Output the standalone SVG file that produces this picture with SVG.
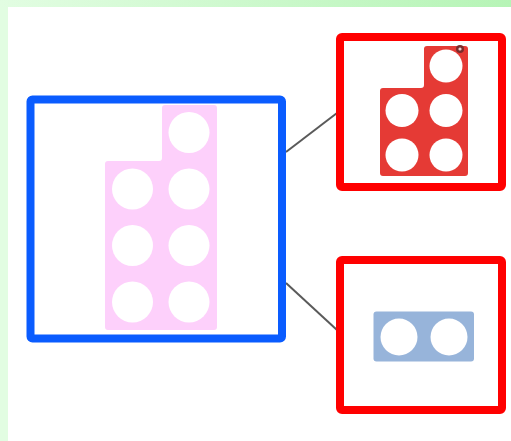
<svg xmlns="http://www.w3.org/2000/svg" width="511" height="441" viewBox="0 0 511 441">
  <defs>
    <linearGradient id="topBand" x1="0" y1="0" x2="1" y2="0">
      <stop offset="0" stop-color="#e2fde2"/>
      <stop offset="1" stop-color="#b6f4b6"/>
    </linearGradient>
    <style>
      .frame { fill: #ffffff; stroke-width: 8; stroke-linejoin: round; }
      .blue { stroke: #0a5cff; }
      .red { stroke: #ff0000; }
      .hole { fill: #ffffff; }
      .link { stroke: #5a5a5a; stroke-width: 2; fill: none; }
    </style>
  </defs>

  <!-- page background -->
  <rect x="0" y="0" width="511" height="441" fill="#ffffff"/>
  <rect x="0" y="0" width="8" height="441" fill="#e2fde2"/>
  <rect x="0" y="0" width="511" height="7" fill="url(#topBand)"/>

  <!-- connectors -->
  <g id="connectors">
    <line class="link" x1="286" y1="152" x2="337" y2="113"/>
    <line class="link" x1="286" y1="283" x2="337" y2="330"/>
  </g>

  <!-- seven: pink number rod -->
  <g id="seven">
    <rect class="frame blue" x="30.5" y="99.5" width="251.5" height="239" rx="2"/>
    <path d="M108 161 H159 A3 3 0 0 0 162 158 V108 A3 3 0 0 1 165 105 H214 A3 3 0 0 1 217 108 V327 A3 3 0 0 1 214 330 H108 A3 3 0 0 1 105 327 V164 A3 3 0 0 1 108 161 Z" fill="#fdd0fb"/>
    <circle class="hole" cx="189" cy="132.5" r="20.5"/>
    <circle class="hole" cx="132.5" cy="189" r="20.5"/>
    <circle class="hole" cx="189" cy="189" r="20.5"/>
    <circle class="hole" cx="132.5" cy="245.5" r="20.5"/>
    <circle class="hole" cx="189" cy="245.5" r="20.5"/>
    <circle class="hole" cx="132.5" cy="302" r="20.5"/>
    <circle class="hole" cx="189" cy="302" r="20.5"/>
  </g>

  <!-- five: red number rod -->
  <g id="five">
    <rect class="frame red" x="340" y="37" width="162" height="150" rx="2"/>
    <path d="M383 88 H421 A3 3 0 0 0 424 85 V49 A3 3 0 0 1 427 46 H465 A3 3 0 0 1 468 49 V173 A3 3 0 0 1 465 176 H383 A3 3 0 0 1 380 173 V91 A3 3 0 0 1 383 88 Z" fill="#e53a35"/>
    <circle class="hole" cx="446" cy="66" r="16.5"/>
    <circle class="hole" cx="402" cy="110.5" r="16.5"/>
    <circle class="hole" cx="446" cy="110.5" r="16.5"/>
    <circle class="hole" cx="402" cy="155" r="16.5"/>
    <circle class="hole" cx="446" cy="155" r="16.5"/>
    <circle cx="460" cy="49" r="4" fill="#7a2b2b"/>
    <circle cx="460" cy="49" r="1.6" fill="#e8d0d0"/>
  </g>

  <!-- two: blue-grey number rod -->
  <g id="two">
    <rect class="frame red" x="340" y="260" width="162" height="150" rx="2"/>
    <rect x="373.5" y="311.5" width="100.5" height="50" rx="3" fill="#97b4da"/>
    <circle class="hole" cx="399" cy="337" r="18.5"/>
    <circle class="hole" cx="449" cy="337" r="18.5"/>
  </g>
</svg>
